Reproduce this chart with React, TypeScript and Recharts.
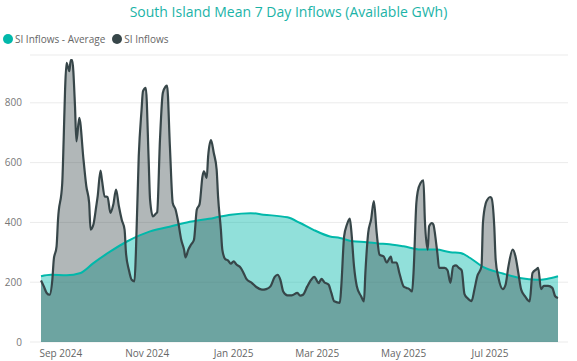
import React from 'react';
import { ComposedChart, Area, Line, XAxis, YAxis, CartesianGrid } from 'recharts';

// days counted from 18 Aug 2024 (first point of the series)
const inflowDays = [
  0, 2, 4, 6, 8, 9, 11, 12, 15, 16, 17, 18, 20, 21, 22, 24, 25, 27, 30, 32, 34, 35, 37, 39, 40, 42, 43, 45, 47, 49,
  51, 53, 55, 57, 59, 60, 62, 64, 66, 67, 69, 71, 72, 74, 76, 77, 79, 81, 82, 84, 86, 88, 89, 91, 93, 95, 97, 99, 101, 102,
  104, 106, 108, 110, 112, 114, 115, 117, 118, 120, 122, 124, 125, 127, 128, 130, 132, 134, 136, 138, 141, 143, 145, 149, 152, 156, 159, 162, 165, 167,
  169, 171, 174, 177, 181, 183, 185, 188, 190, 193, 195, 196, 198, 200, 203, 205, 207, 211, 212, 214, 216, 218, 219, 221, 223, 226, 228, 229, 231, 233,
  235, 237, 239, 242, 244, 247, 248, 251, 253, 256, 258, 260, 262, 263, 265, 266, 268, 270, 271, 273, 274, 276, 277, 279, 280, 281, 285, 287, 289, 291,
  293, 295, 297, 299, 301, 304, 306, 308, 311, 312, 314, 315, 317, 318, 320, 321, 323, 326, 328, 330, 333, 335, 337, 339, 342, 345, 347, 350, 351, 353,
  355, 358, 361, 363, 365,
];
const inflowGWh = [
  206, 186, 164, 158, 208, 275, 320, 409, 532, 677, 844, 934, 906, 943, 943, 789, 671, 750, 610, 521, 465, 376, 393, 454, 487, 573, 543, 487, 485, 432,
  459, 510, 454, 409, 376, 298, 242, 208, 203, 299, 621, 777, 839, 850, 610, 476, 420, 429, 434, 677, 833, 855, 858, 655, 465, 443, 398, 342, 309, 283,
  309, 326, 342, 443, 462, 554, 571, 549, 621, 675, 632, 577, 487, 376, 309, 278, 273, 262, 270, 259, 248, 231, 211, 197, 184, 175, 177, 186, 218, 225,
  208, 169, 156, 156, 164, 155, 158, 186, 203, 218, 203, 197, 211, 200, 192, 164, 136, 131, 186, 353, 393, 413, 376, 253, 186, 153, 136, 231, 365, 409,
  471, 365, 292, 286, 266, 286, 266, 266, 231, 186, 181, 177, 169, 231, 465, 504, 532, 541, 409, 309, 387, 398, 393, 330, 290, 248, 248, 240, 198, 253,
  256, 248, 240, 160, 147, 137, 176, 220, 253, 398, 464, 475, 485, 482, 387, 275, 214, 177, 192, 253, 309, 286, 231, 175, 151, 136, 231, 244, 248, 177,
  188, 188, 181, 153, 147,
];

const averageDays = [0, 7, 18, 28, 37, 49, 61, 77, 89, 103, 122, 134, 148, 157, 174, 183, 192, 204, 211, 220, 230, 239, 244, 256, 268, 279, 289, 296, 303, 312, 326, 338, 350, 357, 365];
const averageGWh = [220, 225, 223, 231, 264, 303, 337, 370, 384, 400, 415, 426, 431, 426, 417, 398, 376, 353, 348, 337, 334, 329, 328, 320, 309, 309, 300, 298, 281, 251, 229, 214, 208, 211, 220];

const tickDays = [14, 75, 136, 195, 256, 317];
const tickLabels = ['Sep 2024', 'Nov 2024', 'Jan 2025', 'Mar 2025', 'May 2025', 'Jul 2025'];
const yTicks = [0, 200, 400, 600, 800];

const TEAL = '#01B8AA';
const DARK = '#374649';
const FONT = '"Open Sans", "Noto Sans", sans-serif';

const allDays = Array.from(new Set([...inflowDays, ...averageDays])).sort((a, b) => a - b);
const data = allDays.map(day => {
  const i = inflowDays.indexOf(day);
  const j = averageDays.indexOf(day);
  return {
    day,
    inflow: i >= 0 ? inflowGWh[i] : null,
    average: j >= 0 ? averageGWh[j] : null,
  };
});

const Dot = ({ color }: { color: string }) => (
  <span style={{ display: 'inline-block', width: 10, height: 10, borderRadius: '50%', background: color, marginRight: 2 }} />
);

export default function App() {
  return (
    <div style={{ position: 'absolute', left: 0, top: 0, width: 577, height: 361, background: '#fff', fontFamily: FONT }}>
      <div style={{ position: 'absolute', left: 0, top: 2, width: 577, textAlign: 'center', fontSize: 14, lineHeight: '20px', color: '#1bb3a7' }}>
        South Island Mean 7 Day Inflows (Available GWh)
      </div>
      <div style={{ position: 'absolute', left: 3, top: 32, display: 'flex', alignItems: 'center', fontSize: 10, lineHeight: '14px', color: '#666' }}>
        <Dot color={TEAL} /><span style={{ marginRight: 7 }}>SI Inflows - Average</span>
        <Dot color={DARK} /><span>SI Inflows</span>
      </div>
      <ComposedChart width={577} height={361} data={data} margin={{ top: 55, right: 9, bottom: 1, left: 0 }}>
        <CartesianGrid vertical={false} stroke="#ebebeb" />
        <XAxis
          dataKey="day"
          type="number"
          domain={[0, 365]}
          ticks={tickDays}
          tickFormatter={(d: number) => tickLabels[tickDays.indexOf(d)]}
          axisLine={false}
          tickLine={false}
          height={18}
          padding={{ left: 11, right: 10 }}
          tick={{ fontSize: 10, fill: '#666', fontFamily: FONT }}
        />
        <YAxis
          domain={[0, 960]}
          ticks={yTicks}
          axisLine={false}
          tickLine={false}
          width={30}
          tick={{ fontSize: 10, fill: '#777', fontFamily: FONT }}
        />
        <Area type="monotone" dataKey="average" fill={TEAL} fillOpacity={0.43} stroke="none" connectNulls isAnimationActive={false} />
        <Area type="monotone" dataKey="inflow" fill={DARK} fillOpacity={0.39} stroke="none" connectNulls isAnimationActive={false} />
        <Line type="monotone" dataKey="average" stroke={TEAL} strokeWidth={2} dot={false} connectNulls isAnimationActive={false} />
        <Line type="monotone" dataKey="inflow" stroke={DARK} strokeWidth={2.2} dot={false} connectNulls isAnimationActive={false} />
      </ComposedChart>
    </div>
  );
}
